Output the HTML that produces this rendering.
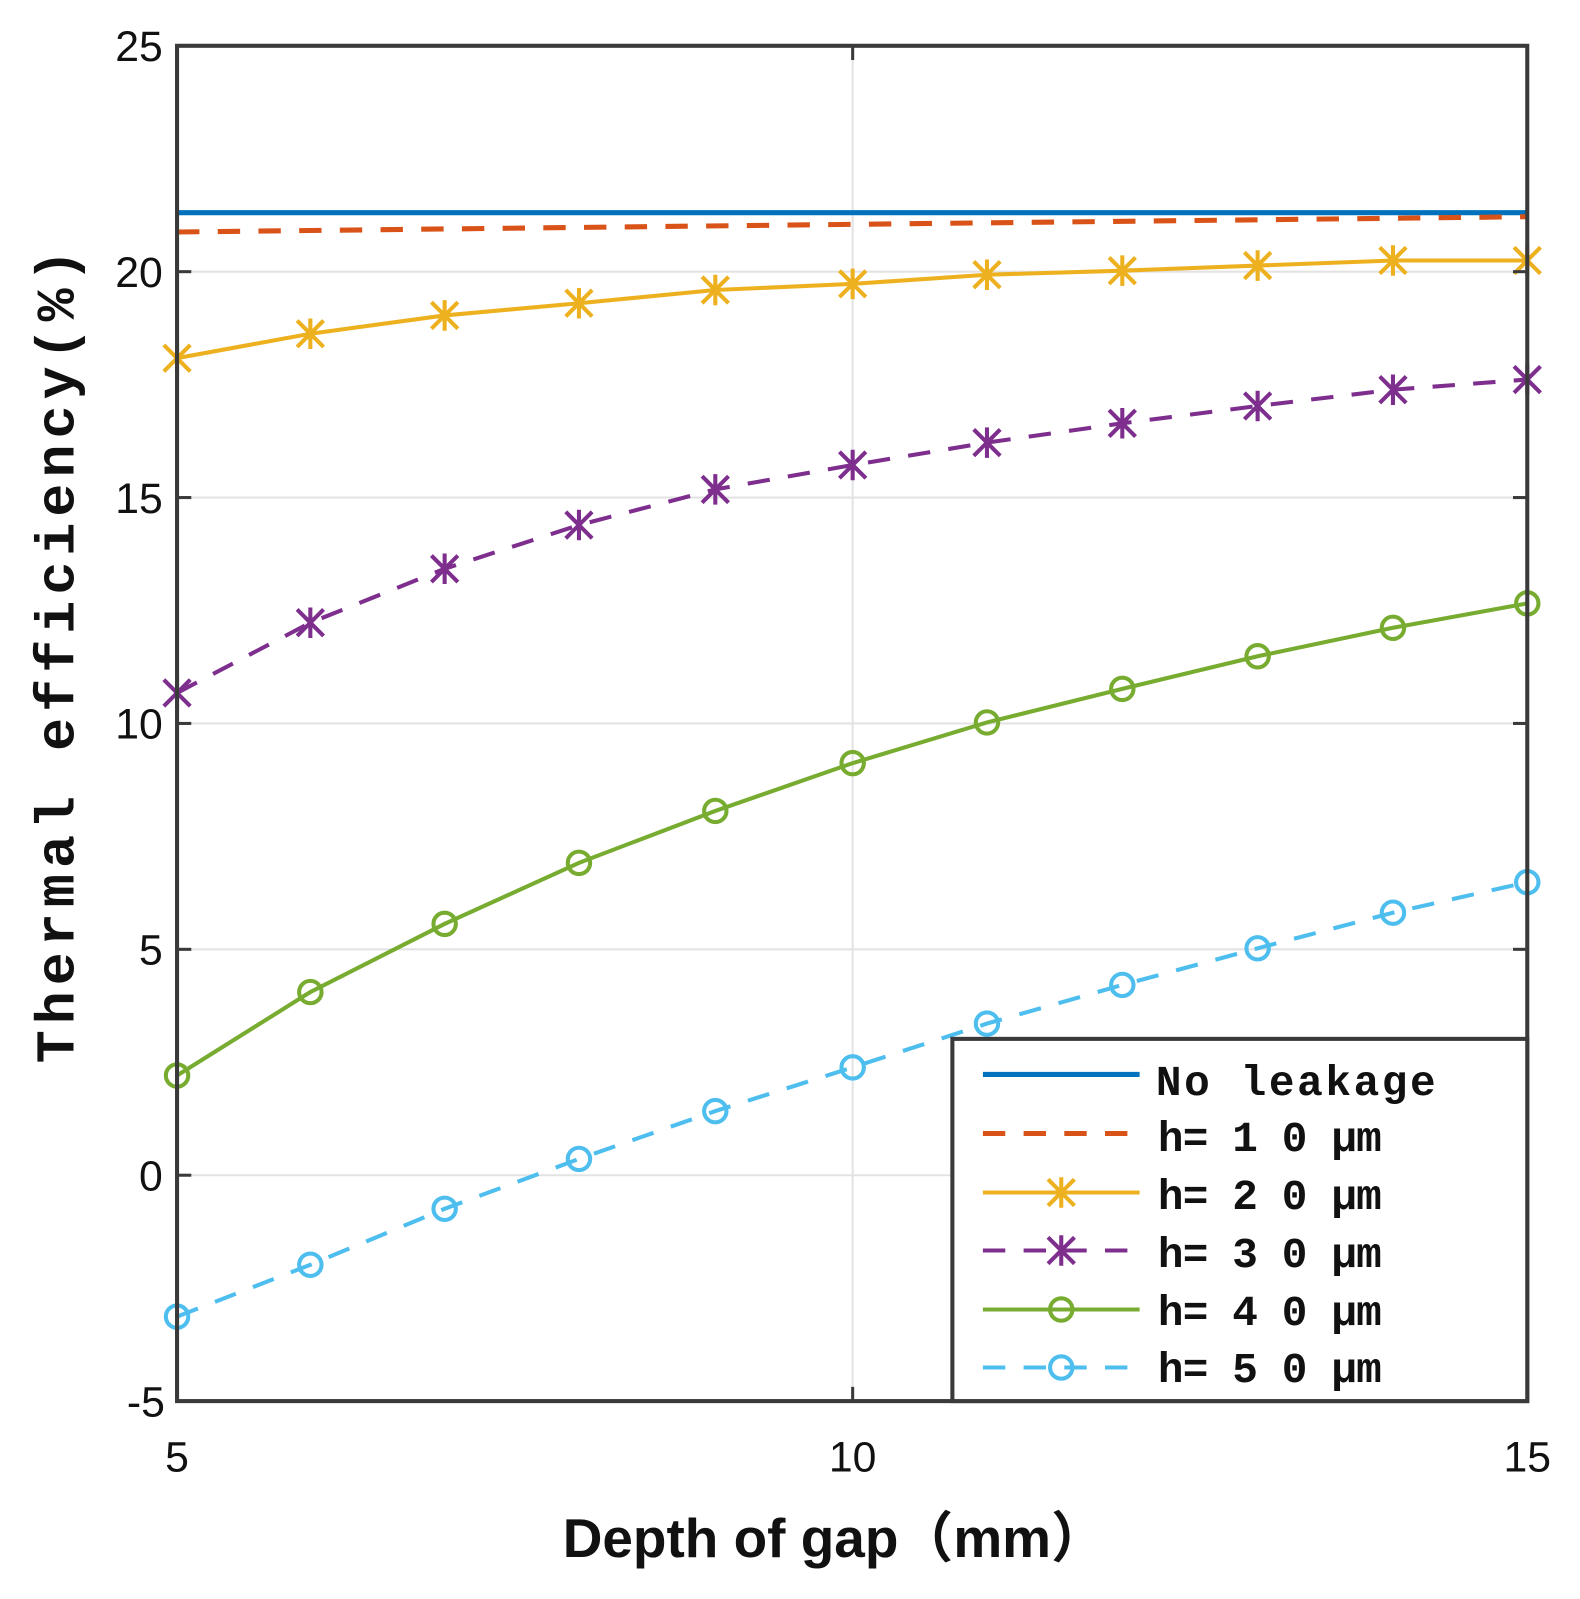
<!DOCTYPE html>
<html><head><meta charset="utf-8"><style>body{margin:0;background:#fff}svg{display:block}</style></head>
<body>
<svg width="1580" height="1599" viewBox="0 0 1580 1599" xmlns="http://www.w3.org/2000/svg">
<defs>
<g id="mx"><path d="M-13,-13L13,13M-13,13L13,-13M0,-15V15" stroke-width="4" fill="none"/></g>
<g id="mo"><circle r="11" stroke-width="4" fill="none"/></g>
</defs>
<rect width="1580" height="1599" fill="#fff"/>
<g transform="scale(1.0175)">
<g stroke="#e3e3e3" stroke-width="2">
<line x1="174" y1="267" x2="1501" y2="267"/><line x1="174" y1="489" x2="1501" y2="489"/>
<line x1="174" y1="711" x2="1501" y2="711"/><line x1="174" y1="933" x2="1501" y2="933"/>
<line x1="174" y1="1155" x2="1501" y2="1155"/><line x1="838" y1="45" x2="838" y2="1377"/>
</g>
<line x1="174" y1="209" x2="1501" y2="209" stroke="#0072BD" stroke-width="5"/>
<line x1="174" y1="228" x2="1501" y2="213" stroke="#D95319" stroke-width="5" stroke-dasharray="22,18"/>
<g stroke="#EDB120" fill="none">
<polyline stroke-width="4" points="174,352 305,328 437,310 569,298 703,285 838,279 970,270 1103,266 1236,261 1369,256 1501,256"/>
<use href="#mx" x="174" y="352"/><use href="#mx" x="305" y="328"/><use href="#mx" x="437" y="310"/><use href="#mx" x="569" y="298"/><use href="#mx" x="703" y="285"/><use href="#mx" x="838" y="279"/><use href="#mx" x="970" y="270"/><use href="#mx" x="1103" y="266"/><use href="#mx" x="1236" y="261"/><use href="#mx" x="1369" y="256"/><use href="#mx" x="1501" y="256"/>
</g>
<g stroke="#7E2F8E" fill="none">
<polyline stroke-width="4" stroke-dasharray="22,18" points="174,681 305,612 437,559 569,516 703,481 838,457 970,435 1103,416 1236,399 1369,383 1501,373"/>
<use href="#mx" x="174" y="681"/><use href="#mx" x="305" y="612"/><use href="#mx" x="437" y="559"/><use href="#mx" x="569" y="516"/><use href="#mx" x="703" y="481"/><use href="#mx" x="838" y="457"/><use href="#mx" x="970" y="435"/><use href="#mx" x="1103" y="416"/><use href="#mx" x="1236" y="399"/><use href="#mx" x="1369" y="383"/><use href="#mx" x="1501" y="373"/>
</g>
<g stroke="#77AC30" fill="none">
<polyline stroke-width="4" points="174,1057 305,975 437,908 569,848 703,797 838,750 970,710 1103,677 1236,645 1369,617 1501,593"/>
<use href="#mo" x="174" y="1057"/><use href="#mo" x="305" y="975"/><use href="#mo" x="437" y="908"/><use href="#mo" x="569" y="848"/><use href="#mo" x="703" y="797"/><use href="#mo" x="838" y="750"/><use href="#mo" x="970" y="710"/><use href="#mo" x="1103" y="677"/><use href="#mo" x="1236" y="645"/><use href="#mo" x="1369" y="617"/><use href="#mo" x="1501" y="593"/>
</g>
<g stroke="#4DBEEE" fill="none">
<polyline stroke-width="4" stroke-dasharray="22,18" points="174,1294 305,1243 437,1188 569,1139 703,1092 838,1049 970,1006 1103,968 1236,932 1369,897 1501,867"/>
<use href="#mo" x="174" y="1294"/><use href="#mo" x="305" y="1243"/><use href="#mo" x="437" y="1188"/><use href="#mo" x="569" y="1139"/><use href="#mo" x="703" y="1092"/><use href="#mo" x="838" y="1049"/><use href="#mo" x="970" y="1006"/><use href="#mo" x="1103" y="968"/><use href="#mo" x="1236" y="932"/><use href="#mo" x="1369" y="897"/><use href="#mo" x="1501" y="867"/>
</g>
<rect x="174" y="45" width="1327" height="1332" fill="none" stroke="#3a3a3a" stroke-width="4"/>
<g stroke="#3a3a3a" stroke-width="3">
<line x1="174" y1="267" x2="188" y2="267"/><line x1="174" y1="489" x2="188" y2="489"/><line x1="174" y1="711" x2="188" y2="711"/><line x1="174" y1="933" x2="188" y2="933"/><line x1="174" y1="1155" x2="188" y2="1155"/>
<line x1="1501" y1="267" x2="1487" y2="267"/><line x1="1501" y1="489" x2="1487" y2="489"/><line x1="1501" y1="711" x2="1487" y2="711"/><line x1="1501" y1="933" x2="1487" y2="933"/><line x1="1501" y1="1155" x2="1487" y2="1155"/>
<line x1="838" y1="45" x2="838" y2="59"/><line x1="838" y1="1377" x2="838" y2="1363"/>
</g>
<rect x="936" y="1021" width="565" height="356" fill="#fff" stroke="#3a3a3a" stroke-width="4"/>
<line x1="966" y1="1056" x2="1120" y2="1056" stroke="#0072BD" stroke-width="5"/>
<line x1="966" y1="1114" x2="1120" y2="1114" stroke="#D95319" stroke-width="5" stroke-dasharray="22,18"/>
<g stroke="#EDB120"><line x1="966" y1="1172" x2="1120" y2="1172" stroke-width="4"/><use href="#mx" x="1043" y="1172"/></g>
<g stroke="#7E2F8E"><line x1="966" y1="1229" x2="1120" y2="1229" stroke-width="4" stroke-dasharray="22,18"/><use href="#mx" x="1043" y="1229"/></g>
<g stroke="#77AC30"><line x1="966" y1="1287" x2="1120" y2="1287" stroke-width="4"/><use href="#mo" x="1043" y="1287"/></g>
<g stroke="#4DBEEE"><line x1="966" y1="1344" x2="1120" y2="1344" stroke-width="4" stroke-dasharray="22,18"/><use href="#mo" x="1043" y="1344"/></g>
<g font-family="Liberation Mono, monospace" font-weight="bold" font-size="42" fill="#111">
<text x="1136" y="1076" textLength="275">No leakage</text>
<text x="1138" y="1131" textLength="220">h= 1 0 μm</text>
<text x="1138" y="1188" textLength="220">h= 2 0 μm</text>
<text x="1138" y="1245" textLength="220">h= 3 0 μm</text>
<text x="1138" y="1302" textLength="220">h= 4 0 μm</text>
<text x="1138" y="1358" textLength="220">h= 5 0 μm</text>
</g>
<g font-family="Liberation Sans, sans-serif" font-size="42" fill="#111" text-anchor="end">
<text x="160" y="60">25</text><text x="160" y="282">20</text><text x="160" y="504">15</text><text x="160" y="726">10</text><text x="160" y="948">5</text><text x="160" y="1170">0</text><text x="162" y="1392">-5</text>
</g>
<g font-family="Liberation Sans, sans-serif" font-size="42" fill="#111" text-anchor="middle">
<text x="174" y="1446">5</text><text x="838" y="1446">10</text><text x="1501" y="1446">15</text>
</g>
<text x="820" y="1530" text-anchor="middle" font-family="Liberation Sans, 'Noto Sans CJK SC', sans-serif" font-weight="bold" font-size="54" fill="#111">Depth of gap（mm）</text>
<text transform="translate(72,1045) rotate(-90)" font-family="Liberation Mono, monospace" font-weight="bold" font-size="54" fill="#111" textLength="800">Thermal efficiency(%)</text>
</g>
</svg>
</body></html>
